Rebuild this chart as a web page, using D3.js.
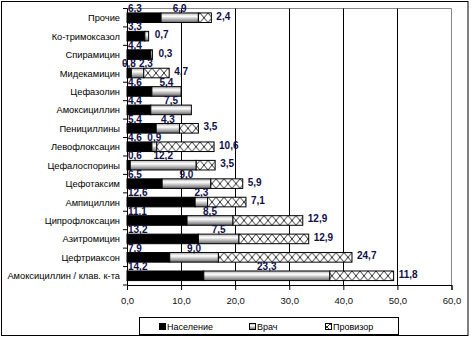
<!DOCTYPE html>
<html lang="ru">
<head>
<meta charset="UTF-8"/>
<title>Антибиотики - кто рекомендует</title>
<script src="https://d3js.org/d3.v7.min.js"></script>
<style>
  body { margin: 0; background: #fff; }
  svg { display: block; font-family: "Liberation Sans", Arial, sans-serif; }
</style>
</head>
<body>
<script>
var w = 473;
var h = 340;

var categories = ["Прочие", "Ко-тримоксазол", "Спирамицин", "Мидекамицин", "Цефазолин",
    "Амоксициллин", "Пенициллины", "Левофлоксацин", "Цефалоспорины", "Цефотаксим",
    "Ампициллин", "Ципрофлоксацин", "Азитромицин", "Цефтриаксон", "Амоксициллин / клав. к-та"];
var naselenie = [6.3, 3.3, 4.4, 0.8, 4.6, 4.4, 5.4, 4.6, 0.6, 6.5, 12.6, 11.1, 13.2, 7.9, 14.2];
var vrach     = [6.9, 0.7, 0.3, 2.3, 5.4, 7.5, 4.3, 0.9, 12.2, 9.0, 2.3, 8.5, 7.5, 9.0, 23.3];
var provizor  = [2.4, 0, 0, 4.7, 0, 0, 3.5, 10.6, 3.5, 5.9, 7.1, 12.9, 12.9, 24.7, 11.8];
var seriesNames = ["Население", "Врач", "Провизор"];
var xTicks = [0, 10, 20, 30, 40, 50, 60];

var ru = d3.formatLocale({decimal: ",", thousands: " ", grouping: [3], currency: ["", ""]});
var fmt = ru.format(".1f");

var rows = categories.map(function(c, i) {
    return {cat: c, n: naselenie[i], v: vrach[i], p: provizor[i]};
});
var stack = d3.stack().keys(["n", "v", "p"])(rows);

var pL = 127, pR = 451.5, pT = 8.5, pB = 285;

var xScale = d3.scaleLinear().domain([0, 60]).range([pL, pR]);
var yScale = d3.scaleBand().domain(categories).range([pT, pB]).paddingInner(0.48).paddingOuter(0.24);
var band = d3.scaleBand().domain(categories).range([pT, pB]);

var svg = d3.select("body").append("svg").attr("width", w).attr("height", h);

var defs = svg.append("defs");
var grad = defs.append("linearGradient").attr("id", "grad").attr("x1", 0).attr("y1", 0).attr("x2", 0).attr("y2", 1);
grad.append("stop").attr("offset", "0%").attr("stop-color", "#b4b4b4");
grad.append("stop").attr("offset", "35%").attr("stop-color", "#ffffff");
grad.append("stop").attr("offset", "100%").attr("stop-color", "#666");

// hatch pattern per row so the crosses line up with each bar
categories.forEach(function(c, i) {
    var bh = yScale.bandwidth();
    var p = defs.append("pattern").attr("id", "hatch" + i)
        .attr("patternUnits", "userSpaceOnUse")
        .attr("x", 0).attr("y", yScale(c))
        .attr("width", 8).attr("height", bh);
    p.append("rect").attr("width", 8).attr("height", bh).attr("fill", "#fff");
    p.append("path").attr("d", "M0,0L8," + bh + "M0," + bh + "L8,0")
        .attr("stroke", "#000").attr("stroke-width", 0.8);
});
var lh = defs.append("pattern").attr("id", "hatchLeg").attr("patternUnits", "userSpaceOnUse")
    .attr("x", 0).attr("y", 0).attr("width", 6).attr("height", 6);
lh.append("rect").attr("width", 6).attr("height", 6).attr("fill", "#fff");
lh.append("path").attr("d", "M0,0L6,6M0,6L6,0").attr("stroke", "#000").attr("stroke-width", 0.8);

// outer frame
svg.append("rect").attr("x", 1.5).attr("y", 1.5).attr("width", 466.5).attr("height", 334)
    .attr("fill", "none").attr("stroke", "#000");

// plot frame + gridlines
svg.append("path").attr("d", "M" + pL + "," + pT + "H" + pR + "V" + pB)
    .attr("fill", "none").attr("stroke", "#888");
svg.selectAll(".grid").data(xTicks.slice(1, -1)).enter().append("line")
    .attr("x1", d => Math.round(xScale(d)) + 0.5).attr("x2", d => Math.round(xScale(d)) + 0.5)
    .attr("y1", pT).attr("y2", pB).attr("stroke", "#000");

// bars
var fills = [function() { return "#000"; }, function() { return "url(#grad)"; },
             function(d, i) { return "url(#hatch" + i + ")"; }];
stack.forEach(function(s, k) {
    svg.append("g").selectAll("rect").data(s).enter().append("rect")
        .filter(function(d) { return d[1] - d[0] > 0; })
        .attr("x", d => xScale(d[0]))
        .attr("y", d => yScale(d.data.cat))
        .attr("width", d => xScale(d[1]) - xScale(d[0]))
        .attr("height", yScale.bandwidth())
        .attr("fill", function(d) { return fills[k](d, categories.indexOf(d.data.cat)); })
        .attr("stroke", "#000").attr("stroke-width", 1);
});

// axes
var xAxis = d3.axisBottom(xScale).tickValues(xTicks).tickSize(5).tickFormat(fmt);
var gx = svg.append("g").attr("transform", "translate(0," + pB + ")").call(xAxis);
gx.select(".domain").attr("stroke", "#000");
gx.selectAll("text").attr("dy", "1.2em").attr("font-size", "9.5px").attr("fill", "#111")
    .attr("font-family", "Liberation Sans, Arial, sans-serif");

svg.append("line").attr("x1", pL + 0.5).attr("x2", pL + 0.5).attr("y1", pT).attr("y2", pB + 5).attr("stroke", "#000");
svg.selectAll(".ytick").data(d3.range(categories.length + 1)).enter().append("line")
    .attr("x1", pL - 4).attr("x2", pL)
    .attr("y1", d => pT + d * band.step()).attr("y2", d => pT + d * band.step())
    .attr("stroke", "#000");

svg.selectAll(".cat").data(categories).enter().append("text")
    .attr("x", 120).attr("y", d => band(d) + band.bandwidth() / 2 + 3.5)
    .attr("text-anchor", "end").attr("font-size", "9.3px").attr("fill", "#000")
    .text(d => d);

// value labels
var labCol = "#101048";
var labels = svg.append("g").attr("font-size", "10px").attr("font-weight", "bold").attr("fill", labCol);
rows.forEach(function(r) {
    var y0 = yScale(r.cat), yc = y0 + yScale.bandwidth() / 2;
    var nl = labels.append("text").attr("x", xScale(0) + 1).attr("y", y0 - 1).text(fmt(r.n));
    if (r.p === 0 && r.v < 1) {
        labels.append("text").attr("x", xScale(r.n + r.v) + 6).attr("y", yc + 2).text(fmt(r.v));
    } else {
        var vl = labels.append("text").attr("y", y0 - 1).attr("text-anchor", "middle").text(fmt(r.v));
        var nEnd = xScale(0) + 1 + nl.node().getComputedTextLength();
        var half = vl.node().getComputedTextLength() / 2;
        var cx = xScale(r.n + r.v / 2);
        if (cx - half < nEnd + 3) {
            // push apart like the hand-moved labels in the original
            nl.attr("x", xScale(0) - 5);
            cx = nEnd - 6 + 3 + half;
        }
        vl.attr("x", cx);
    }
    if (r.p > 0) {
        labels.append("text").attr("x", xScale(r.n + r.v + r.p) + 5).attr("y", yc + 2).text(fmt(r.p));
    }
});

// legend
var leg = svg.append("g");
leg.append("rect").attr("x", 139.5).attr("y", 317.5).attr("width", 259).attr("height", 17)
    .attr("fill", "#fff").attr("stroke", "#000");
var legX = [159, 249, 325];
var legFill = ["#000", "url(#grad)", "url(#hatchLeg)"];
seriesNames.forEach(function(s, i) {
    leg.append("rect").attr("x", legX[i] + 0.5).attr("y", 323.5).attr("width", 6).attr("height", 6)
        .attr("fill", legFill[i]).attr("stroke", "#000");
    leg.append("text").attr("x", legX[i] + 8).attr("y", 330).attr("font-size", "9px")
        .attr("fill", "#000").text(s);
});
</script>
</body>
</html>
